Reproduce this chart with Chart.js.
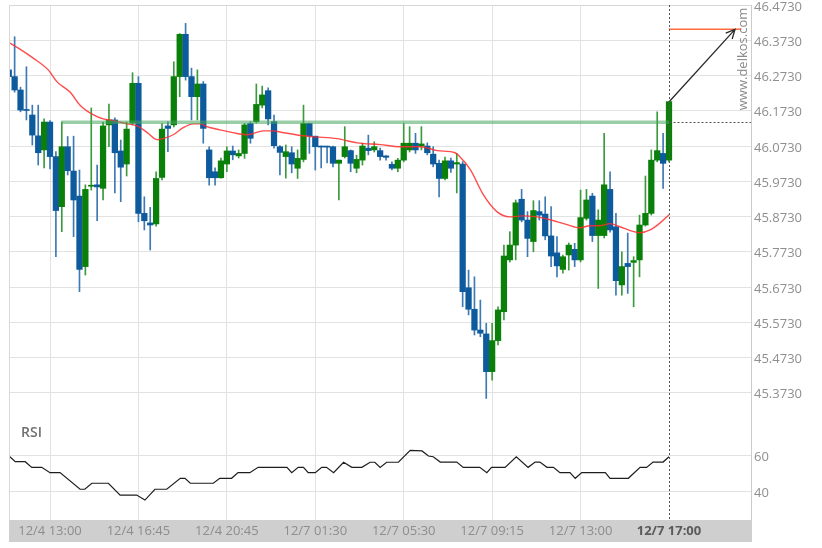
<!DOCTYPE html>
<html><head><meta charset="utf-8">
<script src="https://cdn.jsdelivr.net/npm/chart.js@4.4.0/dist/chart.umd.min.js"></script>
<style>html,body{margin:0;padding:0;background:#fff;overflow:hidden;} #wrap{width:822px;height:548px;position:relative;}</style>
</head><body><div id="wrap"><canvas id="c" width="822" height="548"></canvas></div>
<script>
// ---- candle data (15-min candles, index 0..112) ----
const opens = [46.289,46.270,46.232,46.176,46.161,46.102,46.062,46.141,46.043,45.901,
46.071,46.002,45.931,45.731,45.959,45.963,45.953,46.133,46.147,46.059,
46.022,46.138,46.251,45.882,45.855,45.852,45.984,46.130,46.133,46.270,
46.390,46.270,46.213,46.249,46.062,46.000,45.983,46.022,46.059,46.045,
46.052,46.137,46.142,46.189,46.230,46.142,46.071,46.043,46.054,46.010,
46.035,46.137,46.101,46.073,46.072,46.071,46.024,46.043,46.060,46.010,
46.033,46.067,46.062,46.060,46.045,46.021,46.010,46.033,46.062,46.081,
46.073,46.073,46.050,46.024,45.981,46.031,46.022,46.022,45.671,45.610,
45.551,45.540,45.433,45.521,45.603,45.750,45.792,45.922,45.863,45.802,
45.887,45.880,45.818,45.770,45.723,45.764,45.780,45.750,45.868,45.931,
45.819,45.819,45.950,45.844,45.679,45.740,45.743,45.750,45.849,45.882,
46.033,46.052,46.033];
const highs = [46.295,46.383,46.240,46.298,46.189,46.189,46.150,46.145,46.057,46.141,
46.100,46.101,46.005,45.963,46.181,46.019,46.141,46.192,46.153,46.090,
46.141,46.281,46.270,45.929,45.899,46.000,46.137,46.142,46.312,46.392,
46.421,46.294,46.289,46.256,46.071,46.011,46.039,46.071,46.073,46.062,
46.137,46.142,46.249,46.243,46.238,46.161,46.074,46.076,46.071,46.062,
46.189,46.138,46.101,46.073,46.073,46.073,46.033,46.128,46.062,46.047,
46.081,46.104,46.085,46.067,46.046,46.028,46.038,46.137,46.128,46.109,
46.128,46.082,46.071,46.033,46.042,46.039,46.052,46.029,45.721,45.702,
45.636,45.570,45.570,45.617,45.792,45.830,45.920,45.950,45.887,45.918,
45.918,45.929,45.901,45.816,45.764,45.798,45.797,45.948,45.950,45.939,
45.892,46.109,46.000,45.882,45.773,45.826,45.759,45.877,45.988,46.062,
46.170,46.109,46.200];
const lows = [46.265,46.226,46.170,46.147,46.076,46.019,46.011,46.008,45.759,45.830,
45.991,45.816,45.660,45.707,45.948,45.861,45.920,46.071,45.940,45.915,
45.988,46.133,45.858,45.835,45.778,45.846,45.977,46.057,46.127,46.213,
46.260,46.147,46.147,46.081,45.962,45.962,45.982,46.000,46.034,46.039,
46.038,46.081,46.138,46.181,46.133,46.067,45.991,45.982,45.997,45.981,
46.028,46.052,46.005,46.011,46.025,46.014,45.920,46.039,46.000,45.997,
46.019,46.048,46.056,46.033,46.033,46.005,46.000,46.028,46.056,46.052,
46.062,46.048,46.014,45.929,45.977,45.998,45.940,45.617,45.594,45.537,
45.532,45.357,45.409,45.509,45.580,45.744,45.750,45.858,45.759,45.773,
45.863,45.807,45.731,45.702,45.712,45.721,45.731,45.744,45.863,45.802,
45.669,45.812,45.829,45.650,45.650,45.655,45.617,45.702,45.846,45.877,
46.028,45.953,46.028];
const closes = [46.270,46.232,46.175,46.174,46.104,46.054,46.141,46.043,45.890,46.071,
46.003,45.920,45.723,45.950,45.961,45.957,46.130,46.147,46.054,46.013,
46.121,46.251,45.882,45.861,45.849,45.981,46.121,46.123,46.270,46.390,
46.270,46.213,46.249,46.123,45.983,45.983,46.031,46.059,46.048,46.052,
46.133,46.095,46.191,46.218,46.150,46.074,46.055,46.057,46.022,46.038,
46.137,46.101,46.071,46.070,46.070,46.024,46.033,46.071,46.024,46.035,
46.073,46.060,46.071,46.043,46.041,46.010,46.033,46.081,46.081,46.062,
46.079,46.054,46.022,45.981,46.031,46.010,46.026,45.660,45.610,45.551,
45.542,45.433,45.521,45.608,45.761,45.792,45.912,45.863,45.811,45.890,
45.877,45.818,45.761,45.733,45.759,45.792,45.750,45.870,45.920,45.819,
45.863,45.963,45.835,45.691,45.731,45.731,45.748,45.849,45.882,46.033,
46.060,46.024,46.199];

// ---- moving average ----
const maIdx = [0.2,1.9,4.1,6.7,8.2,10.4,12.1,14.3,16,17.7,
20.1,21.8,23.5,25.2,26.2,27.9,29.6,31.3,32.5,33.6,
35.8,38,40.4,41.4,43.1,44.8,46,49.9,52,55.7,
59.1,63,66.4,69.8,72.7,75.7,76.2,78.3,80.5,82.8,
85,87.2,89.6,91.8,94.7,96.9,98.6,100.3,102,103.7,
105.4,107.1,108.8,110.5,112];
const maVal = [46.365,46.348,46.323,46.289,46.255,46.226,46.189,46.162,46.150,46.145,
46.136,46.130,46.111,46.091,46.094,46.105,46.125,46.136,46.136,46.128,
46.119,46.111,46.105,46.108,46.116,46.116,46.113,46.102,46.099,46.094,
46.082,46.077,46.071,46.071,46.060,46.054,46.048,46.006,45.935,45.887,
45.872,45.875,45.872,45.864,45.850,45.841,45.847,45.847,45.853,45.844,
45.833,45.827,45.835,45.855,45.878];

// ---- RSI ----
const rsiIdx = [0.2,1.1,2.8,3.9,5.6,7,8.7,12.1,12.9,14.1,
16.9,18.9,21.7,23.1,24.8,26.8,29.1,29.9,30.8,34.7,
35.8,37.8,38.9,40.9,42.3,47.2,48,49.1,50,50.8,
52,53.1,53.9,55.1,56.8,58.2,59.9,61.3,62.1,63,
64.1,66.1,68.1,70.1,71.2,72,73.2,76,77.1,79.9,
81.1,81.9,84.2,86.1,88.1,89.3,90.1,91.3,92.4,93.5,
95.2,96.1,97.2,101.2,102,105.1,107.1,108.2,109.3,111,
112];
const rsiVal = [59.4,56.6,56.6,53.4,53.4,50.4,50.4,41.0,41.0,44.4,
44.4,37.7,37.7,34.9,41.0,41.0,47.2,47.2,44.4,44.4,
47.2,47.2,50.4,50.4,53.4,53.4,50.4,53.4,53.4,50.4,
50.4,53.4,53.4,50.4,56.3,53.4,53.4,56.3,56.3,53.4,
56.3,56.3,63.0,62.7,59.8,59.4,56.4,56.4,53.4,53.4,
50.4,53.4,53.4,59.4,53.4,56.4,56.4,53.4,53.4,50.4,
50.4,47.2,50.4,50.4,47.2,47.2,53.4,53.4,56.4,56.4,
59.4];

// ---- axes / annotations ----
const xTickIdx = [7,22,37,52,67,82,97,112];
const xTickLabels = ["12/4 13:00","12/4 16:45","12/4 20:45","12/7 01:30","12/7 05:30","12/7 09:15","12/7 13:00","12/7 17:00"];
const priceTicks = [46.473,46.373,46.273,46.173,46.073,45.973,45.873,45.773,45.673,45.573,45.473,45.373];
const rsiTicks = [60,40];
const resistanceLevel = 46.1404;
const resistanceStartIdx = 8.9;
const targetLevel = 46.404;
const targetEndIdx = 124.3;
const arrowFrom = [112.1, 46.200];
const arrowTo = [123.2, 46.404];

const lastIdx = closes.length - 1;
const GREEN = '#0a7f0a', BLUE = '#0d5a9c';
const GREEN_W = '#3b9a3b', BLUE_W = '#3d79b3';
const idx = closes.map((_, i) => i);

const bgPlugin = {
  id: 'bg',
  beforeDraw(chart) {
    const {ctx, chartArea: a} = chart;
    ctx.save();
    ctx.fillStyle = '#ffffff';
    ctx.fillRect(0, 0, chart.width, chart.height);
    ctx.fillStyle = '#cfcfcf';
    ctx.fillRect(a.left, a.bottom, a.right - a.left + 1, 22);
    ctx.restore();
  }
};

const overlayPlugin = {
  id: 'overlay',
  afterDatasetsDraw(chart) {
    const {ctx, chartArea: a, scales} = chart;
    const xs = scales.x, ys = scales.y;
    ctx.save();
    // frame
    ctx.strokeStyle = '#d8d8d8';
    ctx.lineWidth = 1;
    ctx.beginPath();
    ctx.moveTo(a.left + 0.5, a.bottom);
    ctx.lineTo(a.left + 0.5, a.top + 0.5);
    ctx.lineTo(a.right, a.top + 0.5);
    ctx.stroke();
    // dashed vertical at last candle
    const xl = Math.round(xs.getPixelForValue(lastIdx)) + 0.5;
    ctx.strokeStyle = '#555';
    ctx.setLineDash([2, 2]);
    ctx.beginPath();
    ctx.moveTo(xl, a.top);
    ctx.lineTo(xl, a.bottom);
    ctx.stroke();
    // dashed continuation of level
    const yr = Math.round(ys.getPixelForValue(resistanceLevel)) + 0.5;
    ctx.beginPath();
    ctx.moveTo(xl, yr);
    ctx.lineTo(a.right, yr);
    ctx.stroke();
    ctx.setLineDash([]);
    // arrow
    const x1 = xs.getPixelForValue(arrowFrom[0]), y1 = ys.getPixelForValue(arrowFrom[1]);
    const x2 = xs.getPixelForValue(arrowTo[0]), y2 = ys.getPixelForValue(arrowTo[1]);
    ctx.strokeStyle = '#2a2a2a';
    ctx.lineWidth = 1.3;
    ctx.beginPath();
    ctx.moveTo(x1, y1);
    ctx.lineTo(x2, y2);
    const ang = Math.atan2(y2 - y1, x2 - x1);
    const L = 10, sp = 0.45;
    ctx.moveTo(x2 - L * Math.cos(ang - sp), y2 - L * Math.sin(ang - sp));
    ctx.lineTo(x2, y2);
    ctx.lineTo(x2 - L * Math.cos(ang + sp), y2 - L * Math.sin(ang + sp));
    ctx.stroke();
    // watermark
    ctx.fillStyle = '#8a8a8a';
    ctx.font = '13px "Open Sans"';
    ctx.translate(a.right - 8, a.top + 54);
    ctx.rotate(-Math.PI / 2);
    ctx.textAlign = 'center';
    ctx.textBaseline = 'middle';
    ctx.fillText('www.delkos.com', 0, 0);
    ctx.restore();
    // RSI label
    ctx.save();
    ctx.fillStyle = '#707070';
    ctx.font = '600 14px "Open Sans"';
    ctx.textAlign = 'left';
    ctx.textBaseline = 'middle';
    ctx.fillText('RSI', a.left + 12, scales.rsi.top + 13);
    ctx.restore();
  }
};

const fitY = s => { s.width = 71; s.paddingTop = 0; s.paddingBottom = 0; };

new Chart(document.getElementById('c'), {
  type: 'bar',
  data: {
    datasets: [
      {
        type: 'line', label: 'level', order: -1,
        data: [{x: resistanceStartIdx, y: resistanceLevel}, {x: lastIdx, y: resistanceLevel}],
        borderColor: 'rgba(70,165,95,0.55)', borderWidth: 3.5, pointRadius: 0, yAxisID: 'y'
      },
      {
        type: 'line', label: 'target', order: -1,
        data: [{x: lastIdx, y: targetLevel}, {x: targetEndIdx, y: targetLevel}],
        borderColor: '#ff6a3a', borderWidth: 1.5, pointRadius: 0, yAxisID: 'y'
      },
      {
        type: 'line', label: 'MA', order: 0,
        data: maIdx.map((v, i) => ({x: v, y: maVal[i]})),
        borderColor: 'rgba(255,45,45,0.85)', borderWidth: 1.4, pointRadius: 0,
        cubicInterpolationMode: 'monotone', yAxisID: 'y'
      },
      {
        type: 'line', label: 'RSI', order: 0,
        data: rsiIdx.map((v, i) => ({x: v, y: rsiVal[i]})),
        borderColor: '#1e1e1e', borderWidth: 1.2, pointRadius: 0, tension: 0, yAxisID: 'rsi'
      },
      {
        label: 'bodies', order: 1, grouped: false, barThickness: 5.6, minBarLength: 1,
        data: idx.map(i => ({x: i, y: [opens[i], closes[i]]})),
        backgroundColor: ctx => (closes[ctx.dataIndex] >= opens[ctx.dataIndex] ? GREEN : BLUE),
        borderWidth: 0, yAxisID: 'y'
      },
      {
        label: 'wicks', order: 2, grouped: false, barThickness: 1, minBarLength: 1,
        data: idx.map(i => ({x: i, y: [lows[i], highs[i]]})),
        backgroundColor: ctx => (closes[ctx.dataIndex] >= opens[ctx.dataIndex] ? GREEN_W : BLUE_W),
        borderWidth: 0, yAxisID: 'y'
      }
    ]
  },
  options: {
    responsive: false,
    animation: false,
    devicePixelRatio: 1,
    layout: {padding: {left: 9, top: 5, right: 0, bottom: 6}},
    plugins: {legend: {display: false}, tooltip: {enabled: false}},
    scales: {
      x: {
        type: 'linear', min: 0.045, max: 125.91, offset: false,
        grid: {offset: false, drawTicks: false, color: c => (c.tick && c.tick.value === lastIdx ? 'rgba(0,0,0,0)' : '#e2e2e2')},
        border: {display: false},
        afterBuildTicks: s => { s.ticks = xTickIdx.map(v => ({value: v})); },
        afterFit: s => { s.height = 22; s.paddingLeft = 0; s.paddingRight = 0; },
        ticks: {
          autoSkip: false, maxRotation: 0, padding: 3,
          callback: (v) => { const k = xTickIdx.indexOf(v); return k >= 0 ? xTickLabels[k] : ''; },
          color: c => (c.index === xTickIdx.length - 1 ? '#5a5a5a' : '#8d8d8d'),
          font: c => ({family: 'Open Sans', size: 13, weight: c.index === xTickIdx.length - 1 ? 'bold' : 'normal'})
        }
      },
      y: {
        type: 'linear', position: 'right', stack: 'v', stackWeight: 4.15,
        min: 45.2958, max: 46.4731,
        grid: {color: '#e2e2e2', drawTicks: false},
        border: {display: true, color: '#cccccc'},
        afterBuildTicks: s => { s.ticks = priceTicks.map(v => ({value: v})); },
        afterFit: fitY,
        ticks: {padding: 3, labelOffset: 2, color: '#8f8f8f', font: {family: 'Open Sans', size: 13}, callback: v => Number(v).toFixed(4)}
      },
      rsi: {
        type: 'linear', position: 'right', stack: 'v', stackWeight: 1,
        min: 23.6, max: 80.2,
        grid: {color: '#e2e2e2', drawTicks: false},
        border: {display: true, color: '#cccccc'},
        afterBuildTicks: s => { s.ticks = rsiTicks.map(v => ({value: v})); },
        afterFit: fitY,
        ticks: {padding: 3, labelOffset: 2, color: '#8f8f8f', font: {family: 'Open Sans', size: 13}, callback: v => String(v)}
      }
    }
  },
  plugins: [bgPlugin, overlayPlugin]
});
</script>
</body></html>
